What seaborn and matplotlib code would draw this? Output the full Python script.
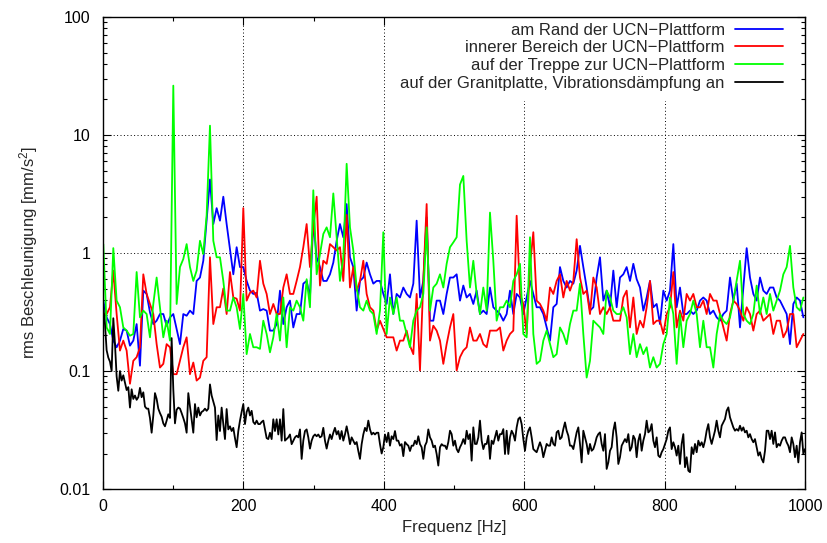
import numpy as np
import matplotlib
matplotlib.use("Agg")
import matplotlib.pyplot as plt
from matplotlib.ticker import FixedLocator, FixedFormatter, LogLocator, NullFormatter, MultipleLocator
import seaborn as sns

# Spectral bins (Hz); the three platform series are sampled on every second bin
freq = np.linspace(0.6, 1000.0, 422)
freq_platform = freq[::2]

# rms acceleration in mm/s^2
rand_ucn = [
    0.395, 0.285, 0.25, 0.181, 0.159, 0.181, 0.227, 0.22, 0.164, 0.181,
    0.25, 0.111, 0.48, 0.45, 0.314, 0.25, 0.267, 0.304, 0.304, 0.242,
    0.285, 0.304, 0.227, 0.169, 0.304, 0.294, 0.325, 0.304, 0.58, 0.62,
    0.86, 1.88, 4.2, 1.76, 2.4, 1.88, 3.0, 1.76, 1.08, 0.66,
    1.12, 0.76, 0.76, 0.58, 0.48, 0.45, 0.46, 0.325, 0.335, 0.325,
    0.22, 0.22, 0.25,
    0.48, 0.25, 0.347, 0.395, 0.234, 0.304, 0.304, 0.55, 0.58, 0.42,
    1.88, 0.92, 0.76, 0.58, 0.58, 0.66, 0.83, 1.27, 1.76, 1.36,
    2.6, 0.92, 0.76, 0.325, 0.58, 0.62, 0.83, 0.66, 0.55, 0.58,
    0.58, 0.45, 0.37, 0.66, 0.304, 0.45, 0.42, 0.51, 0.45, 0.42,
    0.55, 1.88, 0.42, 0.58, 2.0, 0.267, 0.267, 0.395, 0.395, 0.304,
    0.45, 0.62, 0.62,
    0.66, 0.395, 0.53, 0.42, 0.45, 0.37, 0.48, 0.304, 0.325, 0.304,
    0.51, 0.347, 0.325, 0.304, 0.267, 0.304, 0.48, 0.304, 0.45, 0.42,
    0.304, 0.42, 0.58, 0.45, 0.347, 0.347, 0.304, 0.234, 0.181, 0.347,
    0.37, 0.76, 0.58, 0.51, 0.58, 0.55, 0.71, 1.15, 0.76, 0.51,
    0.325, 0.347, 0.62, 0.92, 0.395, 0.48, 0.347, 0.71, 0.347, 0.62,
    0.66, 0.76,
    0.58, 0.81, 0.60, 0.51, 0.325, 0.42, 0.58, 0.347, 0.37, 0.25,
    0.48, 0.395, 0.48, 1.19, 0.347, 0.51, 0.304, 0.304, 0.325, 0.304,
    0.325, 0.395, 0.42, 0.395, 0.304, 0.325, 0.285, 0.267, 0.304, 0.325,
    0.62, 0.395, 0.55, 0.234, 0.51, 1.1, 0.62, 0.45, 0.395, 0.62,
    0.48, 0.45, 0.51, 0.51, 0.42, 0.395, 0.347, 0.304, 0.169, 0.37,
    0.42, 0.395, 0.285,
]

innerer_bereich = [
    0.304, 0.304, 0.347, 0.71, 0.304, 0.149, 0.181, 0.149, 0.078, 0.122,
    0.131, 0.159, 0.66, 0.45, 0.37, 0.304, 0.169, 0.107, 0.115, 0.169,
    0.159, 0.094, 0.094, 0.122, 0.159, 0.193, 0.094, 0.118, 0.083, 0.088,
    0.122, 0.131, 0.92, 0.25, 0.347, 0.347, 0.50, 0.304, 0.69, 0.42,
    0.41, 0.325, 2.4, 0.395, 0.46, 0.48, 0.42, 0.86, 0.55, 0.45,
    0.304, 0.37, 0.304,
    0.304, 0.51, 0.66, 0.45, 0.45, 0.58, 0.76, 1.12, 1.76, 0.76,
    1.65, 3.0, 0.53, 0.86, 0.81, 1.19, 1.12, 1.05, 1.12, 0.58,
    2.1, 0.51, 0.76, 0.48, 0.58, 0.86, 0.45, 0.347, 0.325, 0.22,
    0.267, 0.227, 0.193, 0.193, 0.193, 0.149, 0.181, 0.181, 0.22, 0.164,
    0.139, 0.45, 0.101, 0.58, 2.6, 0.181, 0.242, 0.22, 0.181, 0.115,
    0.169, 0.234, 0.304,
    0.101, 0.131, 0.149, 0.159, 0.234, 0.181, 0.181, 0.206, 0.169, 0.159,
    0.22, 0.22, 0.22, 0.234, 0.149, 0.181, 0.206, 0.22, 2.07, 0.45,
    0.37, 0.206, 0.78, 1.5, 0.395, 0.37, 0.325, 0.267, 0.51, 0.45,
    0.58, 0.66, 0.42, 0.58, 0.48, 0.58, 1.31, 0.62, 0.45, 0.48,
    0.304, 0.62, 0.51, 0.304, 0.347, 0.304, 0.347, 0.267, 0.267, 0.267,
    0.42, 0.48,
    0.234, 0.42, 0.206, 0.267, 0.234, 0.347, 0.58, 0.25, 0.267, 0.267,
    0.206, 0.304, 0.347, 0.69, 0.234, 0.325, 0.267, 0.45, 0.395, 0.45,
    0.347, 0.347, 0.395, 0.304, 0.45, 0.395, 0.395, 0.304, 0.234, 0.181,
    0.304, 0.395, 0.37, 0.325, 0.267, 0.347, 0.304, 0.22, 0.304, 0.325,
    0.267, 0.285, 0.304, 0.206, 0.267, 0.267, 0.193, 0.22, 0.304, 0.304,
    0.159, 0.181, 0.206,
]

treppe = [
    1.19, 0.234, 0.206, 1.1, 0.395, 0.347, 0.234, 0.22, 0.199, 0.206,
    0.69, 0.285, 0.325, 0.304, 0.193, 0.37, 0.62, 0.347, 0.193, 0.267,
    0.181, 26.2, 0.37, 0.76, 0.89, 1.19, 0.76, 0.58, 0.71, 1.27,
    0.98, 2.1, 12.0, 1.27, 0.92, 0.92, 0.58, 0.325, 0.325, 0.42,
    0.347, 0.227, 0.45, 0.139, 0.206, 0.159, 0.159, 0.154, 0.267, 0.206,
    0.144, 0.193, 0.304,
    0.181, 0.42, 0.159, 0.347, 0.325, 0.395, 0.347, 0.267, 0.60, 0.347,
    3.4, 0.66, 0.98, 1.45, 1.65, 1.36, 3.2, 1.36, 0.58, 0.92,
    5.7, 1.65, 1.05, 0.51, 0.347, 0.325, 0.395, 0.325, 0.304, 0.206,
    0.325, 1.5, 0.206, 0.42, 0.304, 0.42, 0.267, 0.267, 0.206, 0.159,
    0.267, 0.325, 0.347, 0.45, 1.65, 0.325, 0.51, 0.55, 0.66, 0.51,
    0.81, 1.12, 1.23,
    1.36, 3.8, 4.5, 1.27, 0.51, 0.86, 0.45, 0.304, 0.51, 0.325,
    2.2, 0.86, 0.267, 0.347, 0.347, 0.395, 0.347, 0.58, 0.66, 0.81,
    0.206, 0.193, 1.36, 0.206, 0.115, 0.122, 0.181, 0.22, 0.169, 0.131,
    0.139, 0.234, 0.206, 0.169, 0.25, 0.325, 0.325, 0.55, 0.206, 0.088,
    0.122, 0.267, 0.25, 0.234, 0.206, 0.48, 0.42, 0.325, 0.304, 0.304,
    0.347, 0.285,
    0.139, 0.206, 0.131, 0.169, 0.139, 0.159, 0.107, 0.131, 0.107, 0.115,
    0.169, 0.206, 0.42, 0.304, 0.115, 0.304, 0.159, 0.267, 0.304, 0.395,
    0.304, 0.159, 0.267, 0.159, 0.159, 0.107, 0.206, 0.304, 0.267, 0.25,
    0.285, 0.395, 0.58, 0.86, 0.304, 0.267, 0.25, 0.304, 0.53, 0.304,
    0.42, 0.304, 0.45, 0.325, 0.395, 0.48, 0.66, 0.76, 1.15, 0.51,
    0.347, 0.325, 0.42,
]

granitplatte = [
    0.35, 0.25, 0.15, 0.13, 0.12, 0.10, 0.28, 0.17, 0.09, 0.068,
    0.10, 0.083, 0.092, 0.08, 0.069, 0.073, 0.049, 0.07, 0.058, 0.062,
    0.057, 0.06, 0.072, 0.06, 0.066, 0.05, 0.048, 0.048, 0.04, 0.03,
    0.042, 0.065, 0.058, 0.048, 0.044, 0.041, 0.036, 0.034, 0.038, 0.043,
    0.04, 0.19, 0.07, 0.036, 0.047, 0.049, 0.048, 0.044, 0.04, 0.036,
    0.030, 0.065, 0.05, 0.038, 0.030, 0.0525, 0.0405, 0.049, 0.042, 0.045,
    0.046, 0.048, 0.046, 0.048, 0.077, 0.062, 0.055, 0.049, 0.026, 0.042,
    0.031, 0.049, 0.0355, 0.0265, 0.0476, 0.032, 0.034, 0.031, 0.033, 0.027,
    0.0226, 0.031, 0.038, 0.045, 0.0525, 0.0355, 0.045, 0.049, 0.042, 0.046,
    0.037, 0.0355, 0.038, 0.0355, 0.0355, 0.037, 0.038, 0.032, 0.027, 0.0265,
    0.030, 0.0265, 0.039, 0.031, 0.039, 0.029, 0.039, 0.0257, 0.0476, 0.0257,
    0.0265, 0.0274, 0.029, 0.024, 0.0257, 0.0274, 0.0283, 0.0274, 0.032, 0.018,
    0.0257, 0.031, 0.032, 0.0274, 0.022, 0.0257, 0.028, 0.029, 0.028, 0.029,
    0.0274, 0.028, 0.033, 0.0257, 0.022, 0.0257, 0.029, 0.0265, 0.030, 0.033,
    0.029, 0.031, 0.0265, 0.031, 0.0257, 0.029, 0.034, 0.029, 0.024, 0.0274,
    0.0257, 0.024, 0.025, 0.021, 0.018, 0.024, 0.029, 0.033, 0.031, 0.038,
    0.032, 0.029, 0.030, 0.029, 0.030, 0.030, 0.024, 0.020, 0.0226, 0.029,
    0.025, 0.030, 0.0233, 0.028, 0.0265, 0.031, 0.0257, 0.0257, 0.0233, 0.024,
    0.019, 0.025, 0.024, 0.0233, 0.021, 0.0233, 0.0233, 0.0257, 0.024, 0.028,
    0.024, 0.0226, 0.018, 0.0233, 0.025, 0.032, 0.0274, 0.0257, 0.0226, 0.0233,
    0.0198, 0.0158, 0.0226, 0.024, 0.0233, 0.0233, 0.0218, 0.025,
    0.0312, 0.0292, 0.0233, 0.0257, 0.0218, 0.0205, 0.0226, 0.0241, 0.0265, 0.0241,
    0.0312, 0.0265, 0.0292, 0.0174, 0.0333, 0.0241, 0.0241, 0.0274, 0.038, 0.0257,
    0.0218, 0.0241, 0.0241, 0.0283, 0.018, 0.0257, 0.0241, 0.0274, 0.0312, 0.0257,
    0.0292, 0.0292, 0.0322, 0.0198, 0.0312, 0.0198, 0.0274, 0.0312, 0.0292, 0.0257,
    0.0333, 0.0392, 0.0405, 0.0355, 0.0265, 0.0211, 0.0274, 0.0312, 0.0333, 0.0274,
    0.0218, 0.0211, 0.0205, 0.0226, 0.0249, 0.0226, 0.0186, 0.0211, 0.0241, 0.0233,
    0.0233, 0.0274, 0.0241, 0.0233, 0.0302, 0.0312, 0.0265, 0.0274, 0.0322, 0.0367,
    0.0312, 0.0283, 0.0233, 0.0233, 0.0218, 0.0257, 0.0302, 0.0333, 0.0241, 0.0168,
    0.0312, 0.0274, 0.0241, 0.0198, 0.0241, 0.0211, 0.0218, 0.0241, 0.0274, 0.0292,
    0.0302, 0.0241, 0.0211, 0.0292, 0.0148, 0.0168, 0.0211, 0.0226, 0.0312, 0.0367,
    0.0274, 0.0163, 0.0186, 0.0233, 0.0249, 0.0265, 0.0249, 0.0292, 0.0211, 0.0226,
    0.0283, 0.0265, 0.0186, 0.0257, 0.0292, 0.0211, 0.0257, 0.0292, 0.038, 0.0302,
    0.0312, 0.0355, 0.0257, 0.0226, 0.0274, 0.0192, 0.0186, 0.0205, 0.0218, 0.0241,
    0.0265, 0.0312, 0.0333, 0.0218, 0.0249, 0.0226, 0.0192, 0.0233, 0.0163, 0.0241,
    0.0292, 0.0153, 0.0186, 0.0143, 0.0139, 0.0226, 0.0198, 0.0241, 0.0205, 0.0257,
    0.0233, 0.0249, 0.0226, 0.0257, 0.0312, 0.0355, 0.0274, 0.0241, 0.0274, 0.0312,
    0.038, 0.0312, 0.0274, 0.0344, 0.0367, 0.0392, 0.0461, 0.0492, 0.0405, 0.0367,
    0.0333, 0.0312, 0.0322, 0.0312, 0.0344, 0.0312, 0.0333, 0.0302, 0.0312, 0.0274,
    0.0292, 0.0265, 0.0249, 0.0265, 0.0226, 0.0192, 0.0205, 0.018, 0.0168, 0.0211,
    0.0312, 0.0312, 0.0265, 0.0312, 0.0241, 0.0302, 0.0226, 0.0241, 0.0233, 0.0257,
    0.0274, 0.0274, 0.0249, 0.0233, 0.0205, 0.0274, 0.0241, 0.0186, 0.0233, 0.0168,
    0.0249, 0.0302, 0.0198, 0.0218,
]

labels = [
    "am Rand der UCN\u2212Plattform",
    "innerer Bereich der UCN\u2212Plattform",
    "auf der Treppe zur UCN\u2212Plattform",
    "auf der Granitplatte, Vibrationsdämpfung an",
]
colors = ["#0000ff", "#ff0000", "#00ff00", "#000000"]

y_ticks = [0.01, 0.1, 1, 10, 100]
y_ticklabels = ["0.01", "0.1", "1", "10", "100"]
x_ticks = [0, 200, 400, 600, 800, 1000]

sns.set_style("ticks")
plt.rcParams["font.family"] = ["Liberation Sans", "DejaVu Sans"]
plt.rcParams["mathtext.fontset"] = "custom"
plt.rcParams["mathtext.rm"] = "Liberation Sans"
plt.rcParams["mathtext.it"] = "Liberation Sans"
plt.rcParams["font.size"] = 12

fig = plt.figure(figsize=(8.27, 5.43), dpi=100)
ax = fig.add_axes([0.1244, 0.0994, 0.849, 0.8693])

series = [
    (freq_platform, rand_ucn),
    (freq_platform, innerer_bereich),
    (freq_platform, treppe),
    (freq, granitplatte),
]
for (fx, vals), lab, col in zip(series, labels, colors):
    sns.lineplot(x=fx, y=np.asarray(vals), ax=ax, color=col, linewidth=1.3,
                 label=lab, estimator=None, sort=False)

ax.set_yscale("log")
ax.set_xlim(0, 1000)
ax.set_ylim(0.01, 100)

ax.yaxis.set_major_locator(FixedLocator(y_ticks))
ax.yaxis.set_major_formatter(FixedFormatter(y_ticklabels))
ax.yaxis.set_minor_locator(LogLocator(base=10, subs=np.arange(2, 10), numticks=20))
ax.yaxis.set_minor_formatter(NullFormatter())
ax.xaxis.set_major_locator(FixedLocator(x_ticks))
ax.xaxis.set_minor_locator(MultipleLocator(100))

ax.tick_params(which="both", direction="in", top=True, right=True,
               width=0.8, colors="black", labelsize=11.5)
ax.tick_params(which="major", length=5.5)
ax.tick_params(which="minor", length=3)
ax.tick_params(axis="x", which="major", pad=7.5)
ax.tick_params(axis="y", which="major", pad=9)

for sp in ax.spines.values():
    sp.set_color("black")
    sp.set_linewidth(1.0)

ax.grid(True, which="major", color="black", linestyle=(0, (1, 2.5)), linewidth=0.7)
ax.set_axisbelow(True)

ax.set_xlabel("Frequenz [Hz]", fontsize=12, labelpad=4)
ax.set_ylabel("rms Beschleunigung [mm/s$^2$]", fontsize=12, labelpad=14)

leg = ax.legend(loc="upper right", bbox_to_anchor=(0.983, 1.0095), borderaxespad=0,
                frameon=True, facecolor="white", edgecolor="none", framealpha=1,
                fancybox=False, markerfirst=False, handlelength=2.9,
                handletextpad=0.6, labelspacing=0.16, borderpad=0.6, fontsize=12)
leg.set_zorder(2.4)
for line in leg.get_lines():
    line.set_linewidth(1.3)

fig.savefig("out.png", dpi=100)
